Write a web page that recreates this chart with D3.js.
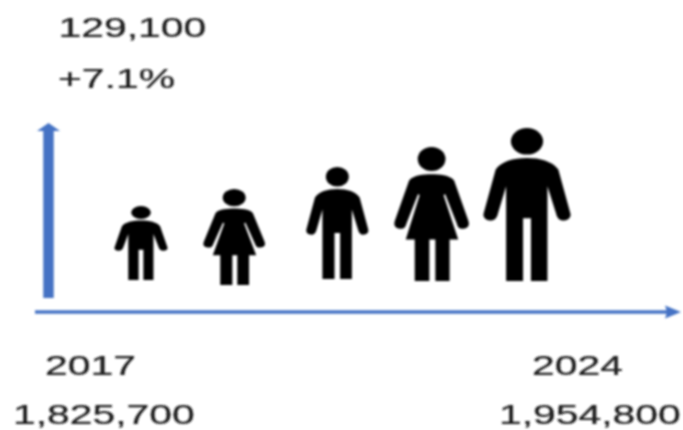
<!DOCTYPE html>
<html>
<head>
<meta charset="utf-8">
<script src="https://cdn.jsdelivr.net/npm/d3@7"></script>
<style>html,body{margin:0;padding:0;background:#fff}svg{display:block}</style>
</head>
<body>
<svg id="chart" width="683" height="430"></svg>
<script>
// Data
const years = [2017, 2024];
const populationLabels = ["1,825,700", "1,954,800"];
const changeLabels = ["129,100", "+7.1%"];
const figureKinds = ["male", "female", "male", "female", "male"];
const figureYears = [2017, 2018.69, 2020.56, 2022.27, 2024];
const figureHeights = [74, 96, 112, 134, 153];
const figureWidths = [53, 62, 62, 75, 87];
const figureFoot = [2, -3, 3, 1, 1];

const svg = d3.select("#chart");
const blue = "#4472c4";

const defs = svg.append("defs");
defs.append("filter").attr("id", "soft").attr("x", "-5%").attr("y", "-5%").attr("width", "110%").attr("height", "110%")
  .append("feGaussianBlur").attr("stdDeviation", 0.85);
const root = svg.append("g").attr("filter", "url(#soft)");

const x = d3.scaleLinear().domain([2017, 2024]).range([141, 527]);
const h = d3.scaleLinear().domain([0, 153]).range([0, 153]);
const baseline = d3.scaleLinear().domain([0, 1]).range([282, 283]);

// Axes
const axisX = d3.scaleLinear().domain([0, 1]).range([35, 681]);
const axisY = d3.scaleLinear().domain([0, 1]).range([298, 123]);
const ln = d3.line();
root.append("path")
  .attr("d", ln([[axisX(0), 312], [axisX(1) - 12, 312]]))
  .attr("stroke", blue).attr("stroke-width", 3.6).attr("fill", "none");
root.append("path")
  .attr("d", ln([[axisX(1), 312], [axisX(1) - 16, 305.5], [axisX(1) - 14, 312], [axisX(1) - 16, 318.5]]) + "Z")
  .attr("fill", blue);
root.append("path")
  .attr("d", ln([[48.5, axisY(0)], [48.5, axisY(1) + 6]]))
  .attr("stroke", blue).attr("stroke-width", 10.5).attr("fill", "none");
root.append("path")
  .attr("d", ln([[48.5, axisY(1)], [60, axisY(1) + 8], [37, axisY(1) + 8]]) + "Z")
  .attr("fill", blue);

// Pictogram outlines, normalised to the figure's box (0..1 each way)
const shapes = {
  male: {
    head: {cx: .5, cy: .087, rx: .185, ry: .087},
    body: "M.5,.196 C.34,.196 .2,.22 .14,.272 L.005,.55 C-.02,.59 .04,.605 .08,.605 C.13,.605 .155,.585 .165,.56 L.26,.38 L.26,1 L.455,1 L.455,.59 L.545,.59 L.545,1 L.735,1 L.735,.38 L.835,.56 C.845,.585 .87,.605 .92,.605 C.96,.605 1.02,.59 .995,.55 L.86,.272 C.8,.22 .66,.196 .5,.196 Z"
  },
  female: {
    head: {cx: .5, cy: .09, rx: .185, ry: .09},
    body: "M.5,.204 C.4,.204 .26,.21 .2,.25 L.01,.55 C-.02,.6 .05,.61 .09,.61 C.13,.61 .15,.6 .165,.57 L.32,.35 L.34,.36 L.155,.69 L.275,.69 L.275,1 L.47,1 L.47,.69 L.55,.69 L.55,1 L.74,1 L.74,.69 L.855,.69 L.66,.36 L.68,.35 L.835,.57 C.85,.6 .87,.61 .91,.61 C.95,.61 1.02,.6 .99,.55 L.8,.25 C.74,.21 .6,.204 .5,.204 Z"
  }
};

const figures = root.selectAll("g.figure")
  .data(figureKinds.map((kind, i) => ({kind, year: figureYears[i], height: figureHeights[i], width: figureWidths[i], foot: figureFoot[i]})))
  .join("g")
  .attr("class", "figure")
  .attr("transform", d => `translate(${x(d.year) - d.width / 2},${baseline(0) - d.foot - h(d.height)}) scale(${d.width},${h(d.height)})`);
figures.append("path").attr("d", d => shapes[d.kind].body).attr("fill", "#000");
figures.append("ellipse")
  .attr("cx", d => shapes[d.kind].head.cx).attr("cy", d => shapes[d.kind].head.cy)
  .attr("rx", d => shapes[d.kind].head.rx).attr("ry", d => shapes[d.kind].head.ry)
  .attr("fill", "#000");

// Text, wide as in the stretched original
const addText = (t, left, base) => root.append("text")
  .attr("transform", `translate(${left},${base}) scale(1.46,1)`)
  .attr("font-family", "'Liberation Sans', Arial, sans-serif")
  .attr("font-size", 28).attr("fill", "#1c1c1c")
  .attr("stroke", "#1c1c1c").attr("stroke-width", 0.25).text(t);
addText(changeLabels[0], 58.5, 37);
addText(changeLabels[1], 58, 88);
addText(String(years[0]), 45, 375);
addText(populationLabels[0], 13, 424);
addText(String(years[1]), 532, 375);
addText(populationLabels[1], 499, 424);
</script>
</body>
</html>
